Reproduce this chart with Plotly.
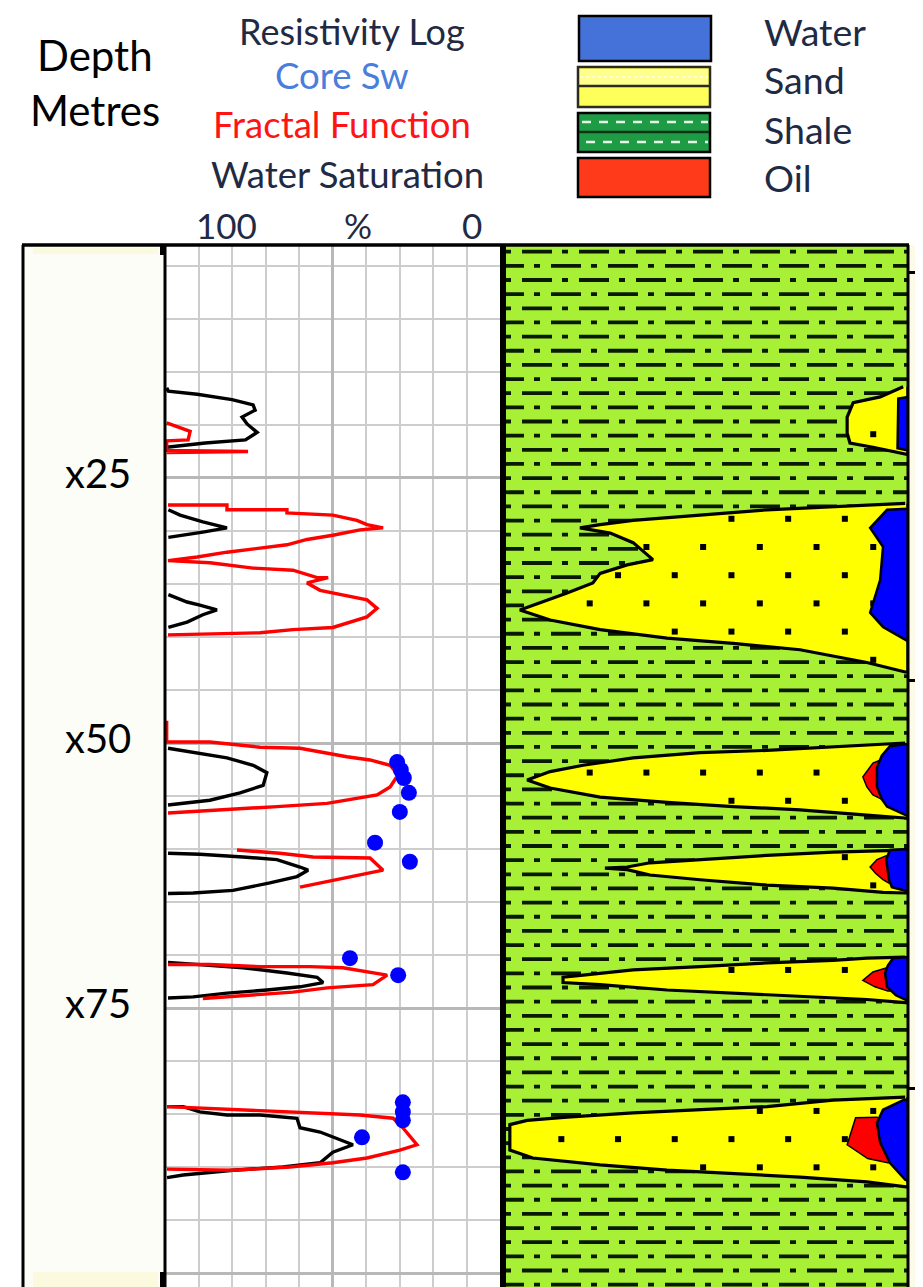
import numpy as np
import plotly.graph_objects as go

W, H = 923, 1287          # page size
OFF = 8                   # default page body margin
FW, FH = W - OFF, H - OFF  # figure size so that it fills the page exactly
FONT = "Lato, 'Open Sans', sans-serif"

# ---------------- data ----------------
header_lines = ["Resistivity Log", "Core Sw", "Fractal Function", "Water Saturation"]
scale_labels = ["100", "%", "0"]
depth_ticks = [25, 50, 75]
depth_tick_text = ["x25", "x50", "x75"]
legend_names = ["Water", "Sand", "Shale", "Oil"]

# Resistivity log (black) segments: (depth m, value on 100..0 % scale)
res_segments = [
    [(16.5, 99.5), (16.8, 99.0), (17.1, 90.4), (17.6, 80.0), (18.1, 73.7), (18.6, 73.1), (19.25, 77.0),
     (19.9, 75.5), (20.7, 72.5), (21.4, 76.0), (21.7, 88.0), (22.0, 97.0), (22.1, 99.5)],
    [(28.0, 99.0), (28.5, 95.5), (29.15, 88.7), (29.7, 81.5), (30.1, 88.7), (30.4, 94.6), (30.6, 99.0)],
    [(36.0, 99.0), (36.7, 93.4), (37.0, 89.6), (37.45, 84.5), (37.9, 88.7), (38.6, 93.4), (39.1, 99.0)],
    [(50.5, 99.1), (50.85, 91.6), (51.4, 81.5), (52.1, 73.7), (52.8, 69.6), (54.0, 70.7), (54.7, 77.6),
     (55.4, 86.6), (55.85, 99.1)],
    [(60.4, 99.1), (60.5, 89.6), (60.75, 76.7), (61.0, 66.6), (61.7, 59.7), (62.0, 57.3), (62.6, 60.6),
     (63.2, 68.7), (63.9, 79.7), (64.15, 91.6), (64.2, 99.1)],
    [(70.7, 99.1), (70.9, 89.6), (71.2, 76.7), (71.7, 63.6), (72.1, 54.6), (72.6, 52.8), (73.0, 59.7),
     (73.3, 69.6), (73.6, 81.5), (73.95, 91.6), (74.05, 99.1)],
    [(84.3, 99.4), (84.3, 94.6), (84.8, 89.6), (85.1, 81.5), (85.1, 71.6), (85.4, 60.6), (86.3, 59.7),
     (86.7, 53.7), (87.9, 43.9), (88.6, 49.9), (89.6, 53.7), (90.0, 64.8), (90.3, 79.7), (90.75, 94.6),
     (91.0, 99.4)],
]

# Fractal function (red) segments
frac_segments = [
    [(19.8, 99.5), (20.3, 95.5), (20.6, 92.5), (21.4, 93.1), (21.5, 99.5), (22.4, 99.5), (22.5, 75.2),
     (22.6, 99.5)],
    [(27.55, 99.1), (27.55, 81.5), (28.0, 81.5), (28.0, 63.6), (28.3, 63.6), (28.4, 56.7), (28.5, 49.9),
     (29.0, 42.7), (29.4, 39.7), (29.7, 34.9), (29.9, 41.8), (30.4, 49.9), (30.8, 57.6), (31.3, 63.6),
     (31.6, 71.6), (32.0, 81.5), (32.45, 90.4), (32.8, 99.1), (33.0, 86.6), (33.5, 73.7), (33.7, 61.8),
     (34.4, 54.6), (34.4, 51.3), (34.9, 57.6), (35.6, 53.7), (36.0, 46.9), (36.5, 39.7), (37.3, 36.7),
     (38.1, 39.7), (39.1, 49.9), (39.3, 61.8), (39.6, 71.6), (39.8, 99.1)],
    [(47.9, 99.5), (49.9, 99.5), (49.9, 86.6), (50.4, 71.6), (50.5, 59.7), (50.9, 52.8), (51.3, 45.7),
     (51.6, 38.8), (52.1, 32.8), (53.0, 30.4), (54.15, 32.8), (54.9, 36.7), (55.7, 51.6), (56.0, 66.6),
     (56.3, 81.5), (56.6, 99.1)],
    [(60.1, 78.5), (60.4, 65.7), (60.75, 55.8), (60.85, 38.8), (62.0, 34.9), (62.45, 41.8), (62.9, 49.9),
     (63.6, 59.7)],
    [(70.9, 99.1), (70.9, 86.6), (71.1, 71.6), (71.1, 56.7), (71.2, 46.9), (71.9, 33.7), (72.8, 37.9),
     (73.1, 51.6), (73.5, 61.8), (73.8, 76.7), (74.1, 88.7)],
    [(84.3, 99.4), (84.6, 79.7), (84.8, 61.8), (85.1, 41.8), (85.4, 31.9), (86.3, 29.0), (87.9, 24.8),
     (88.4, 29.9), (89.15, 39.7), (89.6, 49.9), (90.0, 62.7), (90.3, 79.7), (90.2, 99.4)],
]

# Core water saturation (blue dots)
core_depth = [51.8, 52.55, 53.3, 54.7, 56.5, 59.4, 61.2, 70.3, 71.9, 83.9, 84.8, 85.6, 87.2, 90.5]
core_sw = [30.7, 29.6, 28.7, 27.2, 29.9, 37.3, 26.9, 44.8, 30.4, 29.0, 29.0, 29.0, 41.2, 29.0]

# Lithology track: left edge (% of track width) of each sand body vs depth
sand_bodies = [
    [(16.4, 98.8), (17.35, 93.1), (17.9, 86.4), (19.25, 84.9), (20.75, 84.9), (21.7, 85.6), (22.1, 91.3),
     (22.6, 97.3), (22.8, 100.0)],
    [(27.4, 99.3), (27.7, 81.4), (28.0, 65.0), (28.5, 48.4), (29.0, 31.8), (29.4, 23.6), (29.7, 18.6),
     (30.2, 26.1), (31.1, 31.8), (32.7, 36.7), (33.2, 30.3), (34.0, 23.6), (34.9, 21.8), (35.85, 15.4),
     (37.45, 3.7), (38.4, 11.2), (39.3, 23.6), (40.1, 40.2), (40.6, 56.6), (41.2, 73.2), (42.4, 89.8),
     (43.3, 99.3)],
    [(50.0, 99.3), (50.4, 81.4), (50.7, 65.0), (50.9, 48.4), (51.4, 31.8), (52.1, 19.4), (52.7, 11.2),
     (53.5, 5.5), (54.25, 11.2), (55.1, 23.6), (55.6, 40.2), (56.0, 56.6), (56.3, 73.2), (56.8, 89.8),
     (57.1, 98.8)],
    [(60.1, 99.3), (60.3, 81.4), (60.6, 65.0), (61.0, 48.4), (61.3, 36.0), (61.7, 30.3), (61.8, 24.8),
     (61.95, 30.3), (62.45, 36.0), (62.9, 48.4), (63.4, 65.0), (63.7, 81.4), (64.1, 93.8), (64.15, 99.3)],
    [(70.2, 99.3), (70.3, 89.8), (70.5, 81.4), (70.75, 65.0), (71.1, 48.4), (71.4, 31.8), (71.9, 19.4),
     (72.1, 14.4), (72.6, 14.4), (72.8, 23.6), (73.3, 40.2), (73.6, 56.6), (73.95, 73.2), (74.2, 89.8),
     (74.5, 99.3)],
    [(83.4, 99.3), (83.7, 81.4), (84.3, 65.0), (84.6, 48.4), (84.9, 31.8), (85.3, 15.4), (85.6, 5.5),
     (86.0, 1.2), (88.4, 1.2), (89.15, 6.9), (89.8, 23.6), (90.3, 40.2), (90.6, 56.6), (90.95, 73.2),
     (91.4, 89.8), (91.9, 99.3)],
]
water_zones = [
    [(17.35, 100), (17.5, 97.6), (22.2, 97.4), (22.4, 100)],
    [(27.9, 100), (28.0, 94.8), (29.7, 90.6), (31.5, 93.8), (34.6, 93.1), (37.7, 90.6), (39.05, 93.8),
     (40.3, 99.3), (40.4, 100)],
    [(50.1, 100), (50.3, 95.5), (51.2, 93.5), (52.3, 92.3), (54.15, 92.3), (55.3, 93.5), (56.0, 94.8),
     (56.8, 99.3), (56.9, 100)],
    [(60.0, 100), (60.1, 95.5), (61.0, 94.6), (61.7, 94.8), (62.9, 95.3), (63.6, 96.0), (64.0, 100)],
    [(70.2, 100), (70.3, 96.3), (71.0, 95.0), (71.7, 94.3), (73.0, 94.8), (73.8, 97.0), (74.2, 99.3),
     (74.3, 100)],
    [(83.6, 100), (83.7, 98.8), (84.6, 93.8), (85.85, 92.3), (87.7, 93.1), (89.6, 95.5), (91.2, 99.3),
     (91.3, 100)],
]
oil_zones = [
    [(51.6, 93.2), (51.9, 91.3), (53.2, 88.8), (54.15, 89.8), (54.9, 91.3), (55.3, 93.5)],
    [(60.6, 94.8), (61.0, 92.3), (61.7, 90.6), (62.3, 92.0), (62.9, 93.8), (63.2, 95.2)],
    [(71.2, 94.8), (71.6, 91.3), (72.4, 88.8), (73.0, 91.8), (73.4, 95.0)],
    [(85.3, 92.5), (85.35, 87.0), (87.9, 84.9), (89.2, 90.0), (89.6, 95.0)],
]
track2_ticks = [5.57, 44.06, 82.55]

# ---------------- geometry (page pixel coordinates) ----------------
TOP = 245
D_TOP, D_BOT = 3.02, 101.32
PX_PER_M = 10.6
T2_L, T2_R = 505, 908
PX_PER_U = (T2_R - T2_L) / 100.0


def px(x):
    return (x - OFF) / FW


def py(y):
    return 1 - (y - OFF) / FH


def seg_xy(segments):
    xs, ys = [], []
    for s in segments:
        ys += [p[0] for p in s] + [None]
        xs += [p[1] for p in s] + [None]
    return xs, ys


def poly(body):
    d = [p[0] for p in body]
    u = [p[1] for p in body]
    return u + [100, 100], d + [d[-1], d[0]]


def inside(qx, qy, vx, vy):
    vx = np.asarray(vx, float)
    vy = np.asarray(vy, float)
    res = np.zeros(qx.shape, bool)
    j = len(vx) - 1
    for i in range(len(vx)):
        xi, yi, xj, yj = vx[i], vy[i], vx[j], vy[j]
        if yi != yj:
            cond = ((yi > qy) != (yj > qy)) & (qx < (xj - xi) * (qy - yi) / (yj - yi) + xi)
            res ^= cond
        j = i
    return res


fig = go.Figure()

# ---- Track 1 curves ----
bx, by = seg_xy(res_segments)
fig.add_trace(go.Scatter(x=bx, y=by, mode="lines", line=dict(color="black", width=3.4),
                         xaxis="x", yaxis="y", hoverinfo="skip", name="Resistivity Log"))
rx, ry = seg_xy(frac_segments)
fig.add_trace(go.Scatter(x=rx, y=ry, mode="lines", line=dict(color="#ff0000", width=3.4),
                         xaxis="x", yaxis="y", hoverinfo="skip", name="Fractal Function"))
fig.add_trace(go.Scatter(x=core_sw, y=core_depth, mode="markers",
                         marker=dict(color="#0000ff", size=16, line=dict(width=0)),
                         xaxis="x", yaxis="y", name="Core Sw"))

# ---- Track 2 shale texture (dash - dot rows) ----
row_step = 14.15 / PX_PER_M
first_row = D_TOP + (251.7 - TOP) / PX_PER_M
n_rows = int((D_BOT - first_row) / row_step) + 1
startA = (465 - T2_L) / PX_PER_U
startB = (494 - T2_L) / PX_PER_U
for i in range(n_rows):
    d = first_row + i * row_step
    x0 = startA if i % 2 == 0 else startB
    fig.add_trace(go.Scatter(x=[x0, 102], y=[d, d], mode="lines",
                             line=dict(color="#0a1a00", width=3.8, dash="30px,10px,6px,11px"),
                             xaxis="x2", yaxis="y2", hoverinfo="skip", showlegend=False))

# ---- sand bodies ----
sand_polys = []
for body in sand_bodies:
    xs, ys = poly(body)
    sand_polys.append((xs, ys))
    fig.add_trace(go.Scatter(x=xs, y=ys, mode="lines", fill="toself", fillcolor="#ffff00",
                             line=dict(color="black", width=3.2), xaxis="x2", yaxis="y2",
                             hoverinfo="skip", showlegend=False))

# sand dot texture (staggered lattice)
dd, uu = [], []
for k in range(-12, 30):
    d = 31.51 + 2.66 * k
    off = 7.03 if k % 2 else 0.0
    for j in range(8):
        dd.append(d)
        uu.append(6.95 + 14.07 * j + off)
dd = np.array(dd)
uu = np.array(uu)
keep = np.zeros(dd.shape, bool)
for xs, ys in sand_polys:
    ok = inside(uu, dd, xs, ys)
    for du, ddp in [(-1.5, 0), (1.5, 0), (0, -0.35), (0, 0.35)]:
        ok &= inside(uu + du, dd + ddp, xs, ys)
    keep |= ok
fig.add_trace(go.Scatter(x=uu[keep], y=dd[keep], mode="markers",
                         marker=dict(color="black", size=6, symbol="square"),
                         xaxis="x2", yaxis="y2", hoverinfo="skip", showlegend=False))

for body in oil_zones:
    xs, ys = poly(body)
    fig.add_trace(go.Scatter(x=xs, y=ys, mode="lines", fill="toself", fillcolor="#ff0000",
                             line=dict(color="black", width=1.5), xaxis="x2", yaxis="y2",
                             hoverinfo="skip", showlegend=False))
for body in water_zones:
    xs, ys = poly(body)
    fig.add_trace(go.Scatter(x=xs, y=ys, mode="lines", fill="toself", fillcolor="#0000ff",
                             line=dict(color="black", width=2.5), xaxis="x2", yaxis="y2",
                             hoverinfo="skip", showlegend=False))

# ---------------- shapes ----------------
shapes = []


def rect(x0, y0, x1, y1, fill, lw=0, lc="black", layer="above"):
    shapes.append(dict(type="rect", xref="paper", yref="paper", x0=px(x0), x1=px(x1),
                       y0=py(y1), y1=py(y0), fillcolor=fill, line=dict(width=lw, color=lc), layer=layer))


def hline_px(x0, x1, y, lw, color="black", dash=None):
    ln = dict(width=lw, color=color)
    if dash:
        ln["dash"] = dash
    shapes.append(dict(type="line", xref="paper", yref="paper", x0=px(x0), x1=px(x1),
                       y0=py(y), y1=py(y), line=ln, layer="above"))


def vline_px(x, y0, y1, lw, color="black"):
    shapes.append(dict(type="line", xref="paper", yref="paper", x0=px(x), x1=px(x),
                       y0=py(y0), y1=py(y1), line=dict(width=lw, color=color), layer="above"))


# backgrounds
rect(23, TOP, 165, H, "#fdfdf8", layer="below")
rect(33, 248, 158, 254, "#fbf9de", layer="below")
rect(33, 1272, 158, H, "#fbf9de", layer="below")
rect(909, TOP, W, H, "#fdfbe8", layer="below")
shapes.append(dict(type="rect", xref="x2", yref="y2", x0=0, x1=100, y0=D_TOP, y1=D_BOT,
                   fillcolor="#a8f035", line=dict(width=0), layer="below"))

# borders
hline_px(22, 909, TOP, 3.5)
vline_px(23, TOP, H, 3)
vline_px(165, TOP, H, 3)
vline_px(503, TOP, H, 6)
vline_px(908, TOP, H, 3)
rect(160, 246, 166, 255, "black")
rect(160, 1272, 166, H, "black")

# legend swatches
rect(579, 16, 711, 61, "#4472d8", lw=2.5)
rect(578, 67, 710, 107, "#ffff5a", lw=2.5, lc="#2b2b20")
rect(580, 69, 708, 85, "#ffff8c")
hline_px(580, 708, 77, 1.5, "#fffff0", dash="3px,3px")
hline_px(579, 709, 86, 2.5, "#2b2b20")
rect(578, 113, 710, 152, "#1e9c45", lw=2.5)
hline_px(579, 709, 132, 2.5, "#0d3318")
hline_px(582, 708, 122, 2.5, "#e6f7e6", dash="9px,8px")
hline_px(586, 708, 142, 2.5, "#e6f7e6", dash="9px,8px")
rect(578, 158, 710, 197, "#ff3a1a", lw=2.5)

# ---------------- annotations ----------------
annotations = []


def ann(text, x, y, size, color, xanchor="center", yanchor="middle"):
    annotations.append(dict(text=text, x=px(x), y=py(y), xref="paper", yref="paper", showarrow=False,
                            xanchor=xanchor, yanchor=yanchor, borderpad=0,
                            font=dict(family=FONT, size=size, color=color)))


NAVY = "#1f2a44"
header_colors = [NAVY, "#4a7ddc", "#ff1414", NAVY]
# first header line is anchored to the very top of the figure so it is not clipped
ann(header_lines[0], 352, OFF + 0.5, 36, header_colors[0], yanchor="top")
header_pos = [(342, 74.5), (342, 124), (347, 174)]
for t, c, (x, y) in zip(header_lines[1:], header_colors[1:], header_pos):
    ann(t, x, y, 36.5, c)
for t, x in zip(scale_labels, [226, 358, 472]):
    ann(t, x, 225, 35, NAVY)
ann("Depth", 95, 55, 42, "black")
ann("Metres", 95, 110, 42, "black")
for t, y in zip(legend_names, [32, 79, 129, 178]):
    ann(t, 763, y, 37.5, NAVY, xanchor="left")
for t, d in zip(depth_tick_text, depth_ticks):
    annotations.append(dict(text=t, x=px(98), y=d, xref="paper", yref="y", yshift=5, showarrow=False,
                            xanchor="center", yanchor="middle",
                            font=dict(family=FONT, size=40, color="black")))

fig.update_layout(
    width=FW, height=FH, margin=dict(l=0, r=0, t=0, b=0),
    paper_bgcolor="white", plot_bgcolor="white", showlegend=False,
    xaxis=dict(domain=[px(165), px(500)], range=[100, 0], anchor="y",
               showgrid=True, tick0=0, dtick=50, gridcolor="#b8b8b8", gridwidth=2.5,
               minor=dict(dtick=10, showgrid=True, gridcolor="#cdcdcd", gridwidth=2),
               showticklabels=False, ticks="", zeroline=False, showline=False),
    yaxis=dict(domain=[0, py(TOP)], range=[D_BOT, D_TOP], anchor="x",
               showgrid=True, tick0=0, dtick=25, gridcolor="#b8b8b8", gridwidth=2.5,
               minor=dict(dtick=5, showgrid=True, gridcolor="#cdcdcd", gridwidth=2),
               showticklabels=False, ticks="", zeroline=False, showline=False),
    xaxis2=dict(domain=[px(T2_L), px(T2_R)], range=[0, 100], anchor="y2",
                showgrid=False, showticklabels=False, ticks="", zeroline=False, showline=False),
    yaxis2=dict(domain=[0, py(TOP)], range=[D_BOT, D_TOP], anchor="x2", side="right",
                showgrid=False, zeroline=False, showline=False, showticklabels=False,
                tickmode="array", tickvals=track2_ticks, ticks="outside", ticklen=10,
                tickwidth=3, tickcolor="black"),
    shapes=shapes, annotations=annotations,
)

fig.write_html("out.html")
